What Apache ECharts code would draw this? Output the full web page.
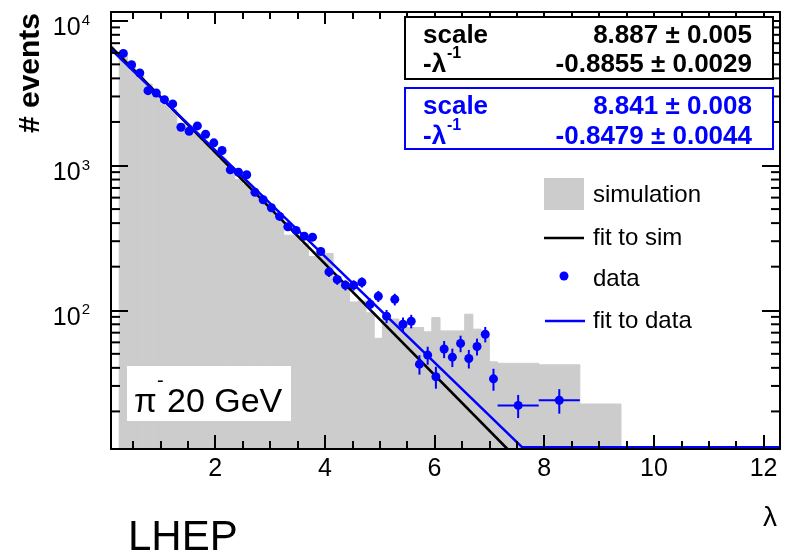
<!DOCTYPE html>
<html>
<head>
<meta charset="utf-8">
<script src="https://cdn.jsdelivr.net/npm/echarts@6/dist/echarts.min.js"></script>
<style>
html, body { margin: 0; padding: 0; background: #fff; }
#chart { width: 785px; height: 558px; }
</style>
</head>
<body>
<div id="chart"></div>
<script>
// 坐标范围
var xMin = 0.1, xMax = 12.3;
var yMin = 11, yMax = 11500;

// 模拟直方图 bin 边界 (λ)
var binEdges = [0.25, 0.4, 0.55, 0.7, 0.85, 1.0, 1.15, 1.3, 1.45, 1.6,
    1.75, 1.9, 2.05, 2.2, 2.35, 2.5, 2.65, 2.8, 2.95, 3.1,
    3.25, 3.4, 3.55, 3.7, 3.85, 4.0, 4.15, 4.3, 4.45, 4.6,
    4.75, 4.9, 5.05, 5.2, 5.35, 5.5, 5.65, 5.8, 5.95, 6.1,
    6.25, 6.4, 6.55, 6.7, 6.85, 7.0, 7.15, 7.9, 8.65, 9.4];
// 模拟直方图高度
var simCounts = [5800, 4900, 4200, 3650, 3200, 2650, 2450, 1950, 1880, 1650,
    1440, 1260, 1100, 960, 800, 740, 650, 560, 495, 430,
    330, 330, 290, 235, 247, 247, 170, 140, 114, 116,
    96, 64, 87, 87, 80, 76, 76, 71, 89, 72,
    72, 72, 94, 74, 66, 44, 43, 42, 22.5];

// 数据点
var dataX = [0.325, 0.475, 0.625, 0.775, 0.925, 1.075, 1.225, 1.375, 1.525, 1.675,
    1.825, 1.975, 2.125, 2.275, 2.425, 2.575, 2.725, 2.875, 3.025, 3.175,
    3.325, 3.475, 3.625, 3.775, 3.925, 4.075, 4.225, 4.375, 4.525, 4.675,
    4.825, 4.975, 5.125, 5.275, 5.425, 5.575, 5.725, 5.875, 6.025, 6.175,
    6.325, 6.475, 6.625, 6.775, 6.925, 7.075, 7.525, 8.275];
var dataY = [5950, 4972, 4358, 3290, 3172, 2852, 2665, 1837, 1724, 1878,
    1644, 1434, 1269, 934, 899, 863, 654, 580, 511, 445,
    377, 356, 325, 320, 255, 184, 163, 149, 149, 156,
    110, 125, 91, 119, 80, 84, 42.4, 49, 34.7, 54,
    47.4, 59, 46.4, 56.2, 68.3, 33.6, 22.0, 23.9];
var dataErr = [0, 0, 0, 0, 0, 0, 0, 0, 0, 0,
    0, 0, 0, 0, 0, 0, 0, 0, 0, 0,
    0, 0, 0, 0, 16, 14, 13, 12, 12, 12.5,
    10.5, 11, 9.5, 11, 9, 9, 6.5, 7, 6, 7.3,
    6.9, 7.7, 6.8, 7.5, 8.3, 5.8, 4, 4.6];
var dataXErr = [0, 0, 0, 0, 0, 0, 0, 0, 0, 0,
    0, 0, 0, 0, 0, 0, 0, 0, 0, 0,
    0, 0, 0, 0, 0, 0, 0, 0, 0, 0,
    0, 0, 0, 0, 0, 0, 0, 0, 0, 0,
    0, 0, 0, 0, 0, 0, 0.375, 0.375];

// 拟合直线 (端点)
var fitSimX = [0.1, 7.33];
var fitSimY = [6620, 11];
var fitDataX = [0.1, 7.6, 12.3];
var fitDataY = [6350, 11.3, 11.3];

// 对数轴次刻度
var minorY = [20, 30, 40, 50, 60, 70, 80, 90,
    200, 300, 400, 500, 600, 700, 800, 900,
    2000, 3000, 4000, 5000, 6000, 7000, 8000, 9000];

var FONT = '"Liberation Sans", Helvetica, Arial, sans-serif';
var BLUE = '#0000ff';
var GRAY = '#cccccc';

var myChart = echarts.init(document.getElementById('chart'));

var histData = [];
for (var i = 0; i < simCounts.length; i++) {
    histData.push([binEdges[i], binEdges[i + 1], simCounts[i]]);
}
var pointData = [];
var errData = [];
for (var j = 0; j < dataX.length; j++) {
    pointData.push([dataX[j], dataY[j]]);
    errData.push([dataX[j], dataY[j], dataErr[j], dataXErr[j]]);
}
var line1 = fitSimX.map(function (x, k) { return [x, fitSimY[k]]; });
var line2 = fitDataX.map(function (x, k) { return [x, fitDataY[k]]; });
var minorData = minorY.map(function (v) { return [xMin, v]; });

/*直方图*/
function renderBin(params, api) {
    var p1 = api.coord([api.value(0), api.value(2)]);
    var p2 = api.coord([api.value(1), yMin]);
    return {
        type: 'rect',
        shape: { x: p1[0], y: p1[1], width: p2[0] - p1[0], height: p2[1] - p1[1] },
        style: { fill: GRAY, stroke: GRAY, lineWidth: 1 }
    };
}

/*误差棒*/
function renderErr(params, api) {
    var x = api.value(0), y = api.value(1), e = api.value(2), ex = api.value(3);
    var children = [];
    if (e > 0) {
        var a = api.coord([x, y - e]);
        var b = api.coord([x, y + e]);
        children.push({ type: 'line', shape: { x1: a[0], y1: a[1], x2: b[0], y2: b[1] },
            style: { stroke: BLUE, lineWidth: 2 } });
    }
    if (ex > 0) {
        var c = api.coord([x - ex, y]);
        var d = api.coord([x + ex, y]);
        children.push({ type: 'line', shape: { x1: c[0], y1: c[1], x2: d[0], y2: d[1] },
            style: { stroke: BLUE, lineWidth: 2 } });
    }
    return { type: 'group', children: children };
}

/*对数次刻度 (左右两侧)*/
function renderMinor(params, api) {
    var l = api.coord([xMin, api.value(1)]);
    var r = api.coord([xMax, api.value(1)]);
    return {
        type: 'group',
        children: [
            { type: 'line', shape: { x1: l[0], y1: l[1], x2: l[0] + 9, y2: l[1] }, style: { stroke: '#000', lineWidth: 2 } },
            { type: 'line', shape: { x1: r[0], y1: r[1], x2: r[0] - 9, y2: r[1] }, style: { stroke: '#000', lineWidth: 2 } }
        ]
    };
}

function supText(x, y, main, sup, size, color) {
    return [
        { type: 'text', x: x, y: y, z: 100, style: { text: main, font: 'bold ' + size + 'px ' + FONT, fill: color, verticalAlign: 'middle' } },
        { type: 'text', x: x + 24, y: y - 11, z: 100, style: { text: sup, font: 'bold 16px ' + FONT, fill: color, verticalAlign: 'middle' } }
    ];
}

var graphics = [
    // 纵轴标题
    { type: 'text', x: 31, y: 73, rotation: Math.PI / 2, style: { text: '# events', font: 'bold 30px ' + FONT, fill: '#000', align: 'center', verticalAlign: 'middle' } },
    // 横轴标题
    { type: 'text', x: 770, y: 518, style: { text: 'λ', font: '28px ' + FONT, fill: '#000', align: 'center', verticalAlign: 'middle' } },
    { type: 'text', x: 128, y: 538, style: { text: 'LHEP', font: '42px ' + FONT, fill: '#000', verticalAlign: 'middle' } },
    // 拟合结果框 (黑)
    { type: 'rect', z: 99, shape: { x: 405, y: 17, width: 368, height: 62 }, style: { fill: '#fff', stroke: '#000', lineWidth: 2 } },
    { type: 'text', z: 100, x: 423, y: 36, style: { text: 'scale', font: 'bold 26px ' + FONT, fill: '#000', verticalAlign: 'middle' } },
    { type: 'text', z: 100, x: 752, y: 36, style: { text: '8.887 ± 0.005', font: 'bold 26px ' + FONT, fill: '#000', align: 'right', verticalAlign: 'middle' } },
    { type: 'text', z: 100, x: 752, y: 65, style: { text: '-0.8855 ± 0.0029', font: 'bold 26px ' + FONT, fill: '#000', align: 'right', verticalAlign: 'middle' } },
    // 拟合结果框 (蓝)
    { type: 'rect', z: 99, shape: { x: 405, y: 88, width: 368, height: 61 }, style: { fill: '#fff', stroke: BLUE, lineWidth: 2 } },
    { type: 'text', z: 100, x: 423, y: 107, style: { text: 'scale', font: 'bold 26px ' + FONT, fill: BLUE, verticalAlign: 'middle' } },
    { type: 'text', z: 100, x: 752, y: 107, style: { text: '8.841 ± 0.008', font: 'bold 26px ' + FONT, fill: BLUE, align: 'right', verticalAlign: 'middle' } },
    { type: 'text', z: 100, x: 752, y: 137, style: { text: '-0.8479 ± 0.0044', font: 'bold 26px ' + FONT, fill: BLUE, align: 'right', verticalAlign: 'middle' } },
    // 图例
    { type: 'rect', z: 100, shape: { x: 544, y: 178, width: 40, height: 32 }, style: { fill: GRAY } },
    { type: 'text', z: 100, x: 593, y: 195, style: { text: 'simulation', font: '24px ' + FONT, fill: '#000', verticalAlign: 'middle' } },
    { type: 'line', z: 100, shape: { x1: 544, y1: 238, x2: 584, y2: 238 }, style: { stroke: '#000', lineWidth: 2.5 } },
    { type: 'text', z: 100, x: 593, y: 238, style: { text: 'fit to sim', font: '24px ' + FONT, fill: '#000', verticalAlign: 'middle' } },
    { type: 'circle', z: 100, shape: { cx: 564, cy: 276, r: 4.5 }, style: { fill: BLUE } },
    { type: 'text', z: 100, x: 593, y: 279, style: { text: 'data', font: '24px ' + FONT, fill: '#000', verticalAlign: 'middle' } },
    { type: 'line', z: 100, shape: { x1: 545, y1: 321, x2: 585, y2: 321 }, style: { stroke: BLUE, lineWidth: 2.5 } },
    { type: 'text', z: 100, x: 593, y: 321, style: { text: 'fit to data', font: '24px ' + FONT, fill: '#000', verticalAlign: 'middle' } },
    // π- 20 GeV
    { type: 'rect', z: 100, shape: { x: 127, y: 366, width: 164, height: 55 }, style: { fill: '#fff' } },
    { type: 'text', z: 101, x: 134, y: 403, style: { text: 'π', font: '33px ' + FONT, fill: '#000', verticalAlign: 'middle' } },
    { type: 'text', z: 101, x: 157, y: 381, style: { text: '-', font: '20px ' + FONT, fill: '#000', verticalAlign: 'middle' } },
    { type: 'text', z: 101, x: 167, y: 403, style: { text: '20 GeV', font: '34px ' + FONT, fill: '#000', verticalAlign: 'middle' } }
];
graphics = graphics.concat(supText(423, 65, '-λ', '-1', 26, '#000'));
graphics = graphics.concat(supText(423, 137, '-λ', '-1', 26, BLUE));

var xAxisBase = {
    type: 'value',
    min: xMin,
    max: xMax,
    z: 10,
    splitLine: { show: false },
    axisLine: { show: true, onZero: false, lineStyle: { color: '#000', width: 2 } }
};

myChart.setOption({
    animation: false,
    backgroundColor: '#fff',
    grid: { left: 111, right: 5, top: 12, bottom: 109, containLabel: false, outerBoundsMode: 'none' },
    xAxis: [
        echarts.util.merge({
            position: 'bottom',
            axisTick: { show: true, inside: true, length: 14, lineStyle: { color: '#000', width: 2 } },
            minorTick: { show: true, splitNumber: 4, length: 8, lineStyle: { color: '#000', width: 2 } },
            axisLabel: { show: true, inside: false, margin: 8, color: '#000', fontSize: 25, fontFamily: FONT,
                showMinLabel: false, showMaxLabel: false }
        }, xAxisBase, true),
        echarts.util.merge({
            position: 'top',
            axisTick: { show: true, inside: true, length: 12, lineStyle: { color: '#000', width: 2 } },
            minorTick: { show: true, splitNumber: 4, length: 7, lineStyle: { color: '#000', width: 2 } },
            axisLabel: { show: false }
        }, xAxisBase, true)
    ],
    yAxis: [
        {
            type: 'log',
            min: yMin,
            max: yMax,
            position: 'left',
            z: 10,
            splitLine: { show: false },
            axisLine: { show: true, onZero: false, lineStyle: { color: '#000', width: 2 } },
            axisTick: { show: true, inside: true, length: 17, lineStyle: { color: '#000', width: 2 } },
            axisLabel: {
                show: true, margin: 21, color: '#000', fontFamily: FONT,
                showMinLabel: false, showMaxLabel: false,
                formatter: function (val) {
                    var e = Math.round(Math.log(val) / Math.LN10);
                    return '{b|10}{s|' + e + '}';
                },
                rich: {
                    b: { fontSize: 25, fontFamily: FONT, color: '#000', padding: [15, 0, 0, 0] },
                    s: { fontSize: 15, fontFamily: FONT, color: '#000', padding: [0, 0, 0, 1] }
                }
            }
        },
        {
            type: 'log',
            min: yMin,
            max: yMax,
            position: 'right',
            z: 10,
            splitLine: { show: false },
            axisLine: { show: true, onZero: false, lineStyle: { color: '#000', width: 2 } },
            axisTick: { show: true, inside: true, length: 18, lineStyle: { color: '#000', width: 2 } },
            axisLabel: { show: false }
        }
    ],
    series: [
        {
            name: 'simulation',
            type: 'custom',
            xAxisIndex: 0,
            yAxisIndex: 0,
            z: 1,
            silent: true,
            renderItem: renderBin,
            encode: { x: [0, 1], y: 2 },
            data: histData
        },
        {
            name: 'fit to sim',
            type: 'line',
            z: 3,
            symbol: 'none',
            lineStyle: { color: '#000', width: 2.5 },
            data: line1
        },
        {
            name: 'fit to data',
            type: 'line',
            z: 3,
            symbol: 'none',
            lineStyle: { color: BLUE, width: 2.5 },
            data: line2
        },
        {
            name: 'data error',
            type: 'custom',
            z: 4,
            silent: true,
            renderItem: renderErr,
            encode: { x: 0, y: 1 },
            data: errData
        },
        {
            name: 'data',
            type: 'scatter',
            z: 5,
            symbol: 'circle',
            symbolSize: 9,
            itemStyle: { color: BLUE, opacity: 1 },
            data: pointData
        },
        {
            name: 'minor ticks',
            type: 'custom',
            z: 20,
            silent: true,
            clip: false,
            renderItem: renderMinor,
            encode: { x: 0, y: 1 },
            data: minorData
        }
    ],
    graphic: graphics
});
</script>
</body>
</html>
